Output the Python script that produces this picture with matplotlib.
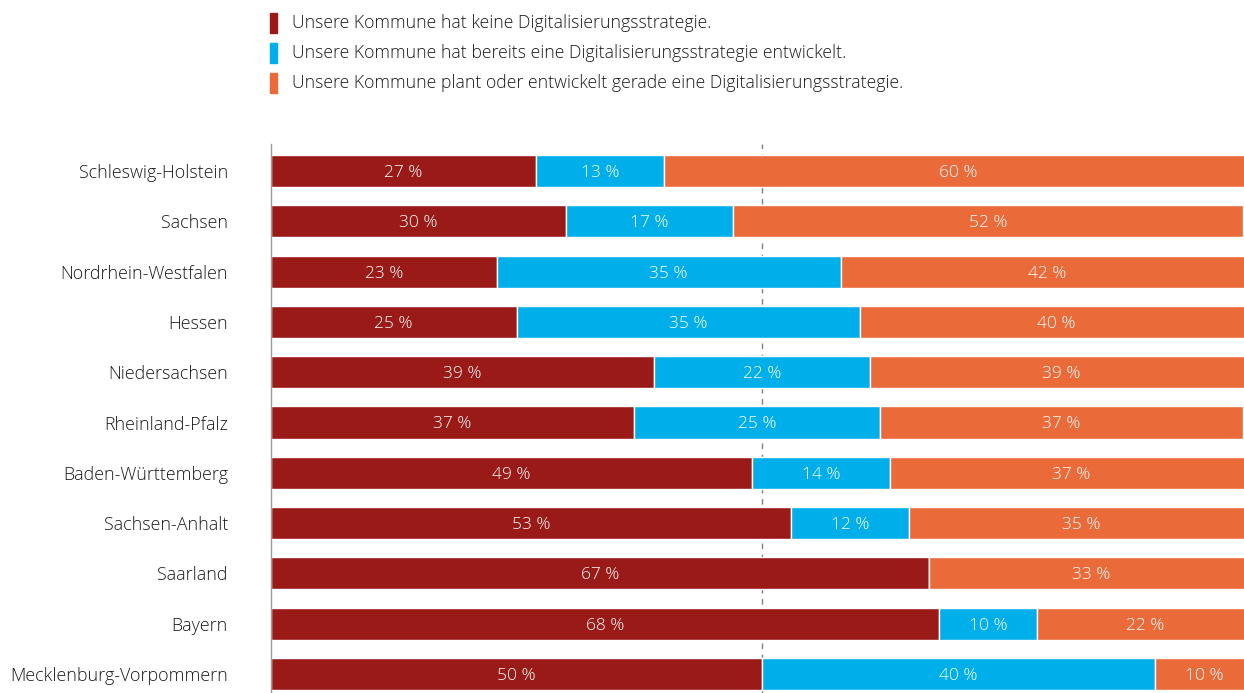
import numpy as np
import matplotlib.pyplot as plt
from matplotlib.patches import Rectangle

plt.rcParams['font.family'] = ['Open Sans', 'DejaVu Sans']
plt.rcParams['font.weight'] = 'light'

laender = ["Schleswig-Holstein", "Sachsen", "Nordrhein-Westfalen", "Hessen",
           "Niedersachsen", "Rheinland-Pfalz", "Baden-Württemberg",
           "Sachsen-Anhalt", "Saarland", "Bayern", "Mecklenburg-Vorpommern"]
keine = [27, 30, 23, 25, 39, 37, 49, 53, 67, 68, 50]
bereits = [13, 17, 35, 35, 22, 25, 14, 12, 0, 10, 40]
geplant = [60, 52, 42, 40, 39, 37, 37, 35, 33, 22, 10]

legend_labels = ["Unsere Kommune hat keine Digitalisierungsstrategie.",
                 "Unsere Kommune hat bereits eine Digitalisierungsstrategie entwickelt.",
                 "Unsere Kommune plant oder entwickelt gerade eine Digitalisierungsstrategie."]
colors = ["#9A1A17", "#00AEEA", "#EB6A3A"]

W, H = 1244, 693
fig = plt.figure(figsize=(W / 100, H / 100), dpi=100)

# axes run past the right edge, so the 100 % end gets cut off
left, right = 271, 1253
ax = fig.add_axes([left / W, 0, (right - left) / W, (H - 144) / H])

y = np.arange(len(laender))
pitch = 50.3
ax.set_xlim(0, 100)
ax.set_ylim((H - 171) / pitch, -(171 - 144) / pitch)

ax.axvline(50, color="#808080", lw=1, ls=(0, (4, 4)), zorder=0)

starts = np.zeros(len(laender))
for vals, col in zip([keine, bereits, geplant], colors):
    vals = np.array(vals, dtype=float)
    ax.barh(y, vals, left=starts, height=0.64, color=col,
            edgecolor="white", linewidth=1, zorder=2)
    for yi, s, v in zip(y, starts, vals):
        if v > 0:
            ax.text(s + v / 2, yi, f"{int(v)} %", color="white",
                    ha="center", va="center_baseline", fontsize=12.5, zorder=3)
    starts += vals

ax.set_yticks(y)
ax.set_yticklabels(laender, fontsize=12.9, color="#1a1a1a")
ax.tick_params(axis="y", length=0, pad=31)
ax.set_xticks([])
for side in ["top", "right", "bottom"]:
    ax.spines[side].set_visible(False)
ax.spines["left"].set_color("#9a9a9a")
ax.spines["left"].set_linewidth(1)

# legend drawn by hand at the top
for i, (lab, col) in enumerate(zip(legend_labels, colors)):
    cy = 23 + i * 30
    fig.patches.append(Rectangle((270 / W, 1 - (cy + 10) / H), 7 / W, 20 / H,
                                 transform=fig.transFigure, color=col))
    fig.text(292 / W, 1 - cy / H, lab, fontsize=12.7, color="#1a1a1a",
             ha="left", va="center")

fig.savefig("out.png", dpi=100)
